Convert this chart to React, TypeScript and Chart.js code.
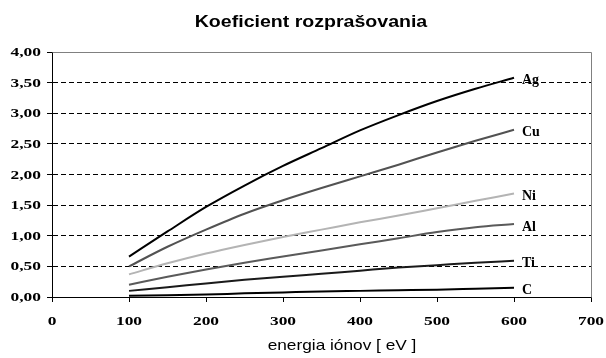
import React, { useEffect, useRef } from "react";
import { Chart, registerables } from "chart.js";

Chart.register(...registerables);

const energies = [100, 150, 200, 250, 300, 350, 400, 450, 500, 550, 600];
const ag = [0.66, 1.07, 1.47, 1.82, 2.14, 2.43, 2.72, 2.97, 3.2, 3.4, 3.58];
const cu = [0.5, 0.82, 1.1, 1.36, 1.58, 1.78, 1.97, 2.16, 2.36, 2.55, 2.73];
const ni = [0.37, 0.55, 0.71, 0.85, 0.98, 1.1, 1.22, 1.33, 1.45, 1.57, 1.69];
const al = [0.2, 0.33, 0.45, 0.56, 0.66, 0.76, 0.86, 0.96, 1.06, 1.14, 1.19];
const ti = [0.1, 0.16, 0.22, 0.28, 0.33, 0.38, 0.43, 0.48, 0.52, 0.56, 0.59];
const c = [0.02, 0.03, 0.04, 0.06, 0.075, 0.09, 0.1, 0.11, 0.12, 0.135, 0.15];

const seriesNames = ["Ag", "Cu", "Ni", "Al", "Ti", "C"];
const seriesValues = [ag, cu, ni, al, ti, c];
const seriesColors = ["#000000", "#525252", "#b4b4b4", "#5a5a5a", "#1a1a1a", "#000000"];

const chartTitle = "Koeficient rozprašovania";
const xTitle = "energia iónov [ eV ]";

const fmtY = (v: number) => v.toFixed(2).replace(".", ",");

const drawStretched = (
  ctx: CanvasRenderingContext2D,
  text: string,
  x: number,
  y: number,
  sx: number,
  align: CanvasTextAlign,
  baseline: CanvasTextBaseline
) => {
  ctx.save();
  ctx.translate(x, y);
  ctx.scale(sx, 1);
  ctx.textAlign = align;
  ctx.textBaseline = baseline;
  ctx.fillText(text, 0, 0);
  ctx.restore();
};

const decorPlugin = {
  id: "decor",
  afterDraw(chart: any) {
    const ctx: CanvasRenderingContext2D = chart.ctx;
    const area = chart.chartArea;
    const xs = chart.scales.x;
    const ys = chart.scales.y;
    ctx.save();
    // top & right gray frame
    ctx.strokeStyle = "#808080";
    ctx.lineWidth = 1;
    ctx.beginPath();
    ctx.moveTo(Math.round(area.left) + 0.5, Math.round(area.top) + 0.5);
    ctx.lineTo(Math.round(area.right) + 0.5, Math.round(area.top) + 0.5);
    ctx.lineTo(Math.round(area.right) + 0.5, Math.round(area.bottom) + 0.5);
    ctx.stroke();

    ctx.fillStyle = "#000";
    // y tick labels
    ctx.font = "bold 12px 'Liberation Serif', 'Times New Roman', serif";
    ys.ticks.forEach((t: any) => {
      const py = ys.getPixelForValue(t.value);
      drawStretched(ctx, fmtY(t.value), ys.right - 11, py + 1, 1.45, "right", "middle");
    });
    // x tick labels
    xs.ticks.forEach((t: any) => {
      const px = xs.getPixelForValue(t.value);
      drawStretched(ctx, String(t.value), px, xs.top + 25, 1.45, "center", "middle");
    });

    // titles
    ctx.font = "bold 17px 'Liberation Sans', Arial, sans-serif";
    drawStretched(ctx, chartTitle, 311, 27, 1.15, "center", "alphabetic");
    ctx.font = "15px 'Liberation Sans', Arial, sans-serif";
    drawStretched(ctx, xTitle, 342, 350, 1.15, "center", "alphabetic");

    // series end labels
    ctx.font = "bold 14px 'Liberation Serif', 'Times New Roman', serif";
    ctx.textAlign = "left";
    ctx.textBaseline = "middle";
    chart.data.datasets.forEach((ds: any, i: number) => {
      const meta = chart.getDatasetMeta(i);
      const last = meta.data[meta.data.length - 1];
      if (last) ctx.fillText(ds.label, last.x + 8, last.y + 3);
    });
    ctx.restore();
  },
};

export default function App() {
  const ref = useRef<HTMLCanvasElement | null>(null);
  useEffect(() => {
    document.body.style.margin = "0";
    if (!ref.current) return;
    const chart = new Chart(ref.current, {
      type: "line",
      data: {
        datasets: seriesNames.map((name, i) => ({
          label: name,
          data: energies.map((e, j) => ({ x: e, y: seriesValues[i][j] })),
          borderColor: seriesColors[i],
          backgroundColor: seriesColors[i],
          borderWidth: 2,
          pointRadius: 0,
          cubicInterpolationMode: "monotone" as const,
          fill: false,
        })),
      },
      options: {
        animation: false,
        responsive: false,
        layout: { padding: { top: 52, right: 15, left: 0, bottom: 0 } },
        plugins: {
          legend: { display: false },
          title: { display: false },
          tooltip: { enabled: false },
        },
        scales: {
          x: {
            type: "linear",
            min: 0,
            max: 700,
            ticks: { display: false, stepSize: 100 },
            grid: {
              drawOnChartArea: false,
              drawTicks: true,
              tickLength: 5,
              tickColor: "#000",
              color: "#000",
            },
            border: { display: true, color: "#000", width: 1 },
            afterFit: (s: any) => {
              s.height = 61;
            },
          },
          y: {
            min: 0,
            max: 4,
            ticks: { display: false, stepSize: 0.5 },
            grid: {
              drawOnChartArea: true,
              drawTicks: true,
              tickLength: 5,
              tickColor: "#000",
              tickBorderDash: [],
              color: (ctx: any) =>
                ctx.tick && (ctx.tick.value === 0 || ctx.tick.value === 4) ? "rgba(0,0,0,0)" : "#000",
            },
            border: { display: true, color: "#000", width: 1, dash: [5, 3] },
            afterFit: (s: any) => {
              s.width = 52;
            },
          },
        },
      },
      plugins: [decorPlugin],
    });
    return () => chart.destroy();
  }, []);
  return (
    <div style={{ width: 606, height: 358, background: "#fff" }}>
      <canvas ref={ref} width={606} height={358} />
    </div>
  );
}
